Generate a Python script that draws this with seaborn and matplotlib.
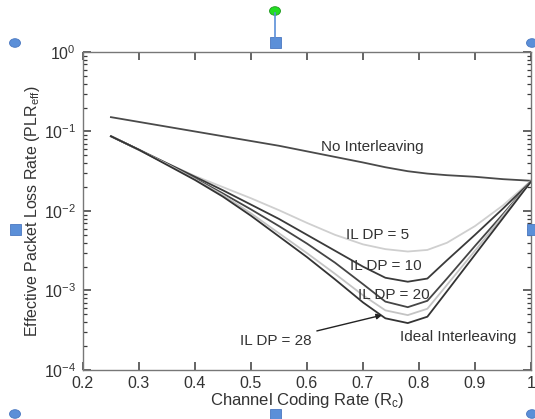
import numpy as np
import pandas as pd
import matplotlib
matplotlib.use("Agg")
import matplotlib.pyplot as plt
import seaborn as sns
from matplotlib.ticker import LogLocator, NullFormatter, FixedLocator
from matplotlib.patches import Circle, Rectangle
from matplotlib.lines import Line2D

# ---- data (log10 of PLR_eff) ----
rate = [0.25, 0.30, 0.35, 0.40, 0.45, 0.50, 0.55, 0.60, 0.65, 0.70, 0.74, 0.78, 0.815, 0.85, 0.90, 0.95, 1.00]
log_no_il = [-0.82, -0.88, -0.94, -1.00, -1.06, -1.12, -1.18, -1.25, -1.32, -1.39, -1.45, -1.50, -1.53, -1.55, -1.57, -1.60, -1.62]
log_dp5   = [-1.06, -1.23, -1.40, -1.56, -1.70, -1.84, -1.99, -2.15, -2.30, -2.42, -2.48, -2.51, -2.49, -2.40, -2.19, -1.93, -1.62]
log_dp10  = [-1.06, -1.23, -1.40, -1.57, -1.74, -1.92, -2.10, -2.30, -2.50, -2.70, -2.84, -2.89, -2.85, -2.62, -2.30, -1.97, -1.63]
log_dp20  = [-1.06, -1.23, -1.41, -1.59, -1.78, -1.98, -2.19, -2.41, -2.65, -2.92, -3.14, -3.21, -3.13, -2.85, -2.44, -2.04, -1.63]
log_dp28  = [-1.06, -1.23, -1.41, -1.60, -1.80, -2.03, -2.28, -2.53, -2.79, -3.06, -3.25, -3.31, -3.23, -2.93, -2.50, -2.06, -1.63]
log_ideal = [-1.06, -1.23, -1.42, -1.61, -1.82, -2.06, -2.32, -2.58, -2.86, -3.15, -3.35, -3.41, -3.33, -3.01, -2.55, -2.09, -1.63]

series_names = ["No Interleaving", "IL DP = 5", "IL DP = 10", "IL DP = 20", "IL DP = 28", "Ideal Interleaving"]
series_logs = [log_no_il, log_dp5, log_dp10, log_dp20, log_dp28, log_ideal]
series_colors = ["#4a4a4a", "#cfcfcf", "#3a3a3a", "#454545", "#c4c4c4", "#333333"]

x_ticks = [0.2, 0.3, 0.4, 0.5, 0.6, 0.7, 0.8, 0.9, 1.0]
x_ticklabels = ["0.2", "0.3", "0.4", "0.5", "0.6", "0.7", "0.8", "0.9", "1"]
y_ticks = [1e-4, 1e-3, 1e-2, 1e-1, 1e0]

rows = []
for name, vals in zip(series_names, series_logs):
    for r, v in zip(rate, vals):
        rows.append({"rate": r, "plr": 10 ** v, "series": name})
df = pd.DataFrame(rows)

plt.rcParams["font.family"] = ["Liberation Sans", "DejaVu Sans"]
plt.rcParams["mathtext.fontset"] = "custom"
plt.rcParams["mathtext.rm"] = "Liberation Sans"
plt.rcParams["mathtext.it"] = "Liberation Sans"
plt.rcParams["mathtext.default"] = "regular"

fig = plt.figure(figsize=(5.35, 4.19), dpi=100)
ax = fig.add_axes([0.155, 0.117, 0.8375, 0.759])

for name, col in zip(series_names, series_colors):
    sub = df[df["series"] == name]
    sns.lineplot(data=sub, x="rate", y="plr", color=col, lw=1.3, ax=ax, legend=False)

ax.set_yscale("log")
ax.set_xlim(0.2, 1.0)
ax.set_ylim(1e-4, 1)
ax.xaxis.set_major_locator(FixedLocator(x_ticks))
ax.set_xticklabels(x_ticklabels)
ax.yaxis.set_major_locator(FixedLocator(y_ticks))
ax.yaxis.set_minor_locator(LogLocator(base=10, subs=np.arange(2, 10), numticks=10))
ax.yaxis.set_minor_formatter(NullFormatter())
ax.set_yticklabels([r"$10^{%d}$" % int(np.log10(v)) for v in y_ticks])
ax.grid(False)

ax.tick_params(axis="both", which="both", direction="in",
               bottom=True, left=True, top=True, right=True,
               color="#3a3a3a", labelcolor="#333333", labelsize=11.5)
ax.tick_params(axis="both", which="major", length=5.5, width=1.1)
ax.tick_params(axis="both", which="minor", length=3.2, width=0.9)
ax.tick_params(axis="y", which="both", pad=5)
ax.tick_params(axis="x", which="both", pad=4)

for s in ax.spines.values():
    s.set_visible(True)
    s.set_color("#777777")
    s.set_linewidth(1.0)

ax.set_xlabel("Channel Coding Rate (R$_c$)", fontsize=12, color="#333333", labelpad=0)
ax.set_ylabel("Effective Packet Loss Rate (PLR$_{eff}$)", fontsize=11.5, color="#333333", labelpad=1)

tc = "#333333"
fs = 11
ax.text(0.625, 10 ** -1.195, "No Interleaving", fontsize=fs, color=tc, va="center", ha="left")
ax.text(0.67, 10 ** -2.30, "IL DP = 5", fontsize=fs, color=tc, va="center", ha="left")
ax.text(0.677, 10 ** -2.69, "IL DP = 10", fontsize=fs, color=tc, va="center", ha="left")
ax.text(0.691, 10 ** -3.06, "IL DP = 20", fontsize=fs, color=tc, va="center", ha="left")
ax.text(0.766, 10 ** -3.585, "Ideal Interleaving", fontsize=fs, color=tc, va="center", ha="left")
ax.annotate("IL DP = 28", xy=(0.734, 10 ** -3.31), xytext=(0.48, 10 ** -3.635),
            fontsize=fs, color=tc, va="center", ha="left",
            arrowprops=dict(arrowstyle="-|>", color="#222222", lw=1.0,
                            shrinkA=2, shrinkB=0, mutation_scale=8))

# selection handles seen in the screenshot
W, H = 535.0, 419.0
def fx(px):
    return px / W
def fy(py):
    return 1 - py / H
hc = "#5b8fd8"
fig.add_artist(Line2D([fx(275), fx(275)], [fy(13), fy(40)], color=hc, lw=1.2))
for (px, py) in [(15, 43), (532, 43), (15, 414), (532, 414)]:
    fig.add_artist(Circle((fx(px), fy(py)), 5.5 / W, transform=fig.transFigure,
                          facecolor=hc, edgecolor="#4a78c0", lw=0.6))
for (px, py) in [(275, 43), (15, 230), (532, 230), (275, 414)]:
    fig.add_artist(Rectangle((fx(px - 5.5), fy(py + 5.5)), 11 / W, 11 / H,
                             transform=fig.transFigure, facecolor=hc,
                             edgecolor="#4a78c0", lw=0.6))
fig.add_artist(Circle((fx(275), fy(11)), 5.5 / W, transform=fig.transFigure,
                      facecolor="#22dd22", edgecolor="#229922", lw=0.6))

fig.savefig("out.png", dpi=100)
